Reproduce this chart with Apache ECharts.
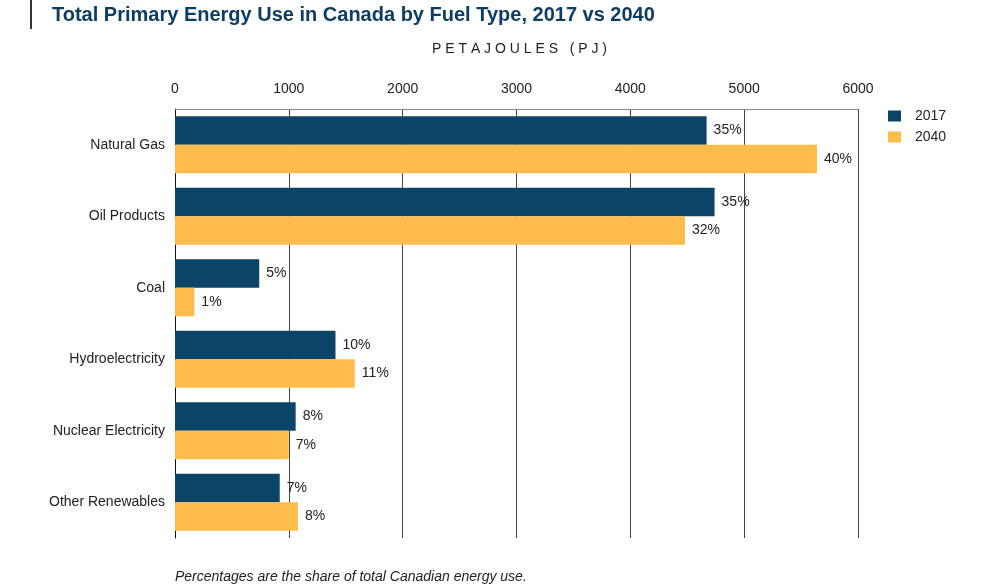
<!DOCTYPE html>
<html>
<head>
<meta charset="utf-8">
<script src="https://cdn.jsdelivr.net/npm/echarts@6/dist/echarts.min.js"></script>
<style>
  html, body { margin: 0; padding: 0; background: #fff; }
  #chart { width: 992px; height: 588px; }
</style>
</head>
<body>
<div id="chart"></div>
<script>
const fuels = ['Natural Gas', 'Oil Products', 'Coal', 'Hydroelectricity', 'Nuclear Electricity', 'Other Renewables']
const pj2017 = [4670, 4740, 740, 1410, 1060, 920]
const pj2040 = [5640, 4480, 170, 1580, 1000, 1080]
const share2017 = ['35%', '35%', '5%', '10%', '8%', '7%']
const share2040 = ['40%', '32%', '1%', '11%', '7%', '8%']

const FONT = '"Liberation Sans", Arial, Helvetica, sans-serif'

let chart = echarts.init(document.getElementById('chart'))

function barLabel(shares) {
  return {
    show: true,
    position: 'right',
    distance: 7,
    fontFamily: FONT,
    fontSize: 14,
    color: '#222',
    formatter: p => shares[p.dataIndex]
  }
}

let option = {
  animation: false,
  textStyle: { fontFamily: FONT },
  legend: {
    orient: 'vertical',
    left: 883,
    top: 104,
    itemWidth: 13,
    itemHeight: 11,
    itemGap: 7,
    icon: 'rect',
    textStyle: { fontSize: 14, color: '#222', fontFamily: FONT, padding: [0, 0, 0, 9] },
    data: ['2017', '2040']
  },
  grid: {
    left: 175,
    right: 134,
    top: 109,
    bottom: 50
  },
  xAxis: {
    type: 'value',
    position: 'top',
    min: 0,
    max: 6000,
    interval: 1000,
    axisLine: { show: true, lineStyle: { color: '#888', width: 1 } },
    axisTick: { show: false },
    axisLabel: { fontSize: 14, color: '#222', margin: 13, fontFamily: FONT, formatter: v => String(v) },
    splitLine: { show: true, lineStyle: { color: '#444', width: 1 } }
  },
  yAxis: {
    type: 'category',
    inverse: true,
    data: fuels,
    axisLine: { show: true, lineStyle: { color: '#111', width: 1 } },
    axisTick: { show: false },
    axisLabel: { fontSize: 14, color: '#222', margin: 10, fontFamily: FONT }
  },
  series: [
    {
      name: '2017',
      type: 'bar',
      data: pj2017,
      barGap: '0%',
      barCategoryGap: '20%',
      itemStyle: { color: '#0c4467' },
      label: barLabel(share2017)
    },
    {
      name: '2040',
      type: 'bar',
      data: pj2040,
      itemStyle: { color: '#fdbc4c' },
      label: barLabel(share2040)
    }
  ],
  graphic: [
    { type: 'rect', left: 30, top: 0, shape: { width: 2, height: 29 }, style: { fill: '#333' } },
    {
      type: 'text', left: 52, top: 5,
      style: { text: 'Total Primary Energy Use in Canada by Fuel Type, 2017 vs 2040', fontFamily: FONT, fontSize: 20, fontWeight: 'bold', fill: '#0d3d63' }
    },
    {
      type: 'text', left: 432, top: 42,
      style: { text: 'P E T A J O U L E S   ( P J )', fontFamily: FONT, fontSize: 14, fill: '#222' }
    },
    {
      type: 'text', left: 175, top: 570,
      style: { text: 'Percentages are the share of total Canadian energy use.', fontFamily: FONT, fontSize: 14, fontStyle: 'italic', fill: '#222' }
    }
  ]
}

chart.setOption(option)
</script>
</body>
</html>
